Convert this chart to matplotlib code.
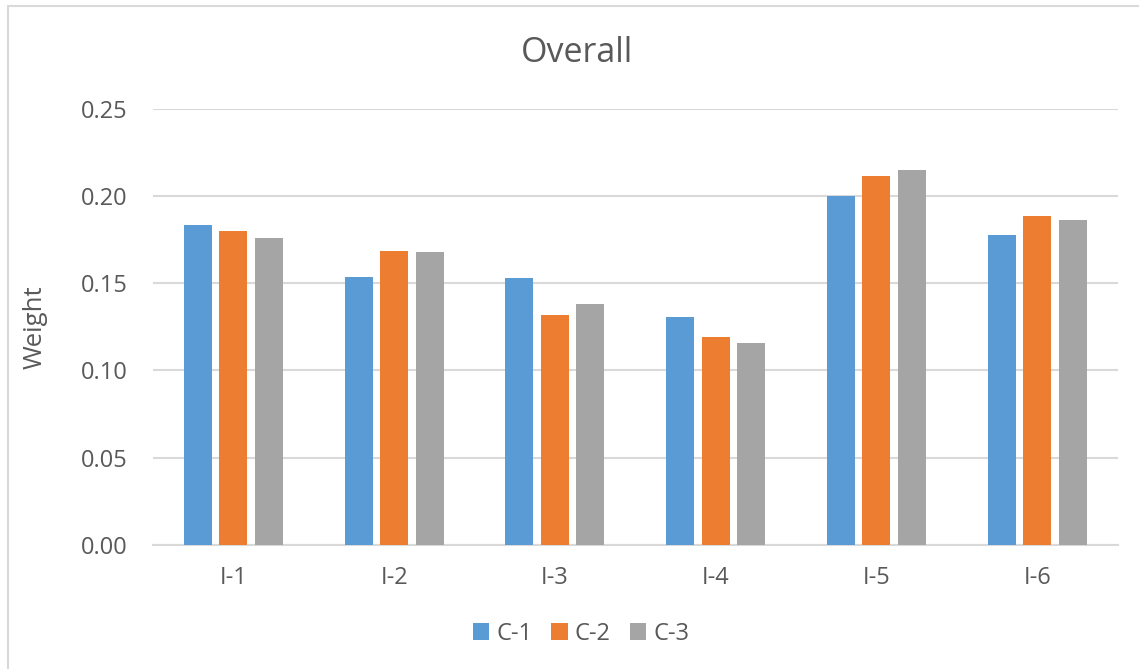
import matplotlib
matplotlib.use("Agg")
import matplotlib.pyplot as plt
import numpy as np
from matplotlib.patches import Rectangle

categories = ["I-1", "I-2", "I-3", "I-4", "I-5", "I-6"]
series_names = ["C-1", "C-2", "C-3"]
c1 = [0.1835, 0.1537, 0.1531, 0.1306, 0.2000, 0.1773]
c2 = [0.1796, 0.1682, 0.1320, 0.1190, 0.2115, 0.1884]
c3 = [0.1756, 0.1676, 0.1383, 0.1156, 0.2145, 0.1863]
y_ticks = [0.00, 0.05, 0.10, 0.15, 0.20, 0.25]

colors = ["#5B9BD5", "#ED7D31", "#A5A5A5"]
text_color = "#595959"
grid_color = "#D9D9D9"

plt.rcParams["font.family"] = ["Open Sans", "DejaVu Sans"]

W, H = 1139, 669
fig = plt.figure(figsize=(W / 100, H / 100), dpi=100)

# chart-area border (only top and left edges fall inside the canvas)
fig.patches.append(Rectangle((8 / W, -0.2), 1.2, 1.2 - 6 / H, transform=fig.transFigure,
                             fill=False, edgecolor=grid_color, linewidth=1.5, zorder=0))

left, right, top, bottom = 153, 1117.5, 108.5, 545
ax = fig.add_axes([left / W, 1 - bottom / H, (right - left) / W, (bottom - top) / H])

x = np.arange(len(categories))
width = 0.174
step = 0.221
for i, (vals, name) in enumerate(zip([c1, c2, c3], series_names)):
    ax.bar(x + (i - 1) * step, vals, width, color=colors[i], label=name, zorder=3)

ax.set_xlim(-0.5, len(categories) - 0.5)
ax.set_ylim(0, 0.25)
ax.set_yticks(y_ticks)
ax.set_yticklabels([f"{v:.2f}" for v in y_ticks])
ax.set_xticks(x)
ax.set_xticklabels(categories)
ax.yaxis.grid(True, color=grid_color, linewidth=1.5, zorder=0)
ax.set_axisbelow(True)
for s in ["top", "right", "left"]:
    ax.spines[s].set_visible(False)
ax.spines["bottom"].set_color(grid_color)
ax.spines["bottom"].set_linewidth(1.5)
ax.tick_params(axis="both", length=0, labelsize=17, colors=text_color)
ax.tick_params(axis="y", pad=18)
ax.tick_params(axis="x", pad=15)

ax.set_ylabel("Weight", fontsize=18.5, color=text_color)
ax.yaxis.set_label_coords((35 - left) / (right - left), 0.5)
ax.yaxis.label.set_verticalalignment("center")

fig.text(577 / W, 1 - 53 / H, "Overall", ha="center", va="center",
         fontsize=24.5, color=text_color)

fig.legend(loc="center", bbox_to_anchor=(581 / W, 1 - 634 / H), ncol=3,
           frameon=False, fontsize=17, labelcolor=text_color,
           handlelength=0.7, handleheight=0.7, handletextpad=0.3,
           columnspacing=0.8)

fig.savefig("out.png", dpi=100)
